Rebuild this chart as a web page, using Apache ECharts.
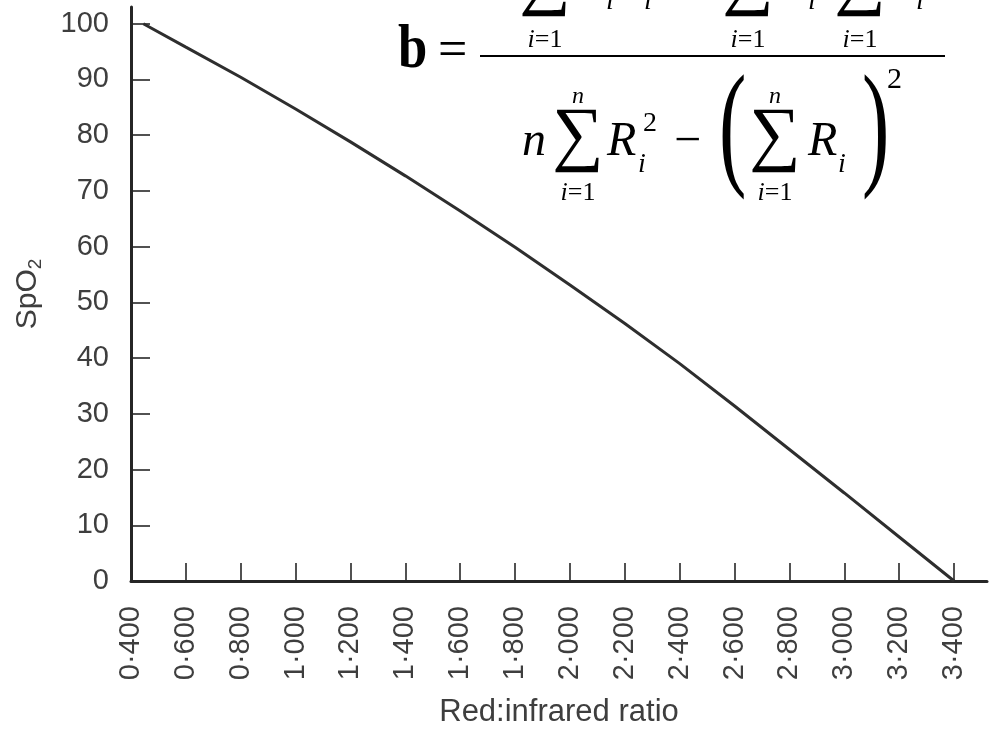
<!DOCTYPE html>
<html>
<head>
<meta charset="utf-8">
<script src="https://cdn.jsdelivr.net/npm/echarts@6/dist/echarts.min.js"></script>
<style>
  html, body { margin: 0; padding: 0; background: #fff; }
  #chart { width: 990px; height: 729px; }
</style>
</head>
<body>
<div id="chart"></div>
<script>
// Calibration curve: SpO2 against the red:infrared absorbance ratio
const ratio = [0.445, 0.6, 0.8, 1.0, 1.2, 1.4, 1.6, 1.8, 2.0, 2.2, 2.4, 2.6, 2.8, 3.0, 3.2, 3.4];
const spo2  = [100, 95.8, 90.4, 84.7, 78.8, 72.7, 66.4, 59.9, 53.1, 46.2, 39.0, 31.4, 23.6, 15.8, 7.9, 0];

// Axis ticks and their printed labels
const xTickValues = [0.4, 0.6, 0.8, 1.0, 1.2, 1.4, 1.6, 1.8, 2.0, 2.2, 2.4, 2.6, 2.8, 3.0, 3.2, 3.4];
const xTickLabels = ['0·400', '0·600', '0·800', '1·000', '1·200', '1·400', '1·600', '1·800',
                     '2·000', '2·200', '2·400', '2·600', '2·800', '3·000', '3·200', '3·400'];
const yTickValues = [0, 10, 20, 30, 40, 50, 60, 70, 80, 90, 100];

const xName = 'Red:infrared ratio';
const yName = 'SpO';
const yNameSub = '2';

const INK = '#262626';
const LABEL = '#3e3e3e';
const SANS = '"Liberation Sans", Arial, Helvetica, sans-serif';
const SERIF = '"Liberation Serif", "Times New Roman", serif';

function xLabel(v) {
  let best = 0;
  for (let i = 1; i < xTickValues.length; i++) {
    if (Math.abs(xTickValues[i] - v) < Math.abs(xTickValues[best] - v)) best = i;
  }
  return xTickLabels[best];
}

// Typeset pieces of the least-squares slope formula
function txt(s, x, y, size, o) {
  o = o || {};
  const al = o.align || 'left';
  return {
    type: 'text', x: x, y: y, silent: true, z: 100,
    scaleX: o.sx || 1, scaleY: o.sy || 1,
    style: {
      text: s, fontSize: size, fontFamily: SERIF,
      fontStyle: o.it ? 'italic' : 'normal',
      fontWeight: o.bold ? 'bold' : 'normal',
      fill: '#000',
      align: al, textAlign: al,
      verticalAlign: 'middle', textVerticalAlign: 'middle',
      rich: o.rich
    }
  };
}
// summation lower limit "i=1" with an italic index
function lim(x, y) {
  return txt('{v|i}=1', x, y, 26, { align: 'center',
    rich: { v: { fontStyle: 'italic', fontSize: 26, fontFamily: SERIF, fill: '#000' } } });
}

const SUM = '\u2211';
const formula = [
  txt('b', 398, 51, 62, { bold: true, sx: 0.85 }),
  txt('=', 438, 52, 52),
  { type: 'line', silent: true, z: 100,
    shape: { x1: 480, y1: 56, x2: 945, y2: 56 },
    style: { stroke: '#000', lineWidth: 2 } },

  // numerator: n ΣRiSi − ΣRi ΣSi
  txt('n', 490, -20, 48, { it: true }),
  txt(SUM, 545, -18, 72, { align: 'center' }),
  lim(545, 40),
  txt('R', 576, -20, 48, { it: true }),
  txt('i', 606, 2, 28, { it: true }),
  txt('S', 622, -20, 48, { it: true }),
  txt('i', 644, 2, 28, { it: true }),
  txt('\u2212', 672, -20, 48),
  txt(SUM, 748, -18, 72, { align: 'center' }),
  lim(748, 40),
  txt('R', 778, -20, 48, { it: true }),
  txt('i', 808, 2, 28, { it: true }),
  txt(SUM, 860, -18, 72, { align: 'center' }),
  lim(860, 40),
  txt('S', 892, -20, 48, { it: true }),
  txt('i', 916, 2, 28, { it: true }),

  // denominator: n ΣRi² − (ΣRi)²
  txt('n', 522, 142, 48, { it: true }),
  txt(SUM, 578, 138, 72, { align: 'center' }),
  txt('n', 578, 97, 24, { align: 'center', it: true }),
  lim(578, 193),
  txt('R', 607, 142, 48, { it: true }),
  txt('2', 643, 124, 28),
  txt('i', 638, 165, 28, { it: true }),
  txt('\u2212', 674, 142, 48),
  txt('(', 719, 134, 137, { sx: 0.6 }),
  txt(SUM, 775, 138, 72, { align: 'center' }),
  txt('n', 775, 97, 24, { align: 'center', it: true }),
  lim(775, 193),
  txt('R', 808, 142, 48, { it: true }),
  txt('i', 838, 165, 28, { it: true }),
  txt(')', 862, 134, 137, { sx: 0.6 }),
  txt('2', 887, 80, 30)
];

const chart = echarts.init(document.getElementById('chart'), null, { renderer: 'canvas', width: 990, height: 729 });

chart.setOption({
  animation: false,
  backgroundColor: '#fff',
  grid: { left: 131, right: 3, top: 7, bottom: 148, containLabel: false, outerBoundsMode: 'none' },
  xAxis: {
    type: 'value', min: 0.4, max: 3.52, interval: 0.2,
    axisLine: { onZero: false, lineStyle: { color: INK, width: 3 } },
    axisTick: { show: true, inside: true, length: 18, customValues: xTickValues.slice(1),
                lineStyle: { color: INK, width: 1.6 } },
    axisLabel: { customValues: xTickValues, rotate: 90, margin: 25, formatter: xLabel,
                 fontSize: 29, fontFamily: SANS, color: LABEL },
    splitLine: { show: false },
    name: xName, nameLocation: 'middle', nameGap: 116,
    nameTextStyle: { fontSize: 31, fontFamily: SANS, color: LABEL }
  },
  yAxis: {
    type: 'value', min: 0, max: 103, interval: 10,
    axisLine: { show: true, onZero: false, lineStyle: { color: INK, width: 3 } },
    axisTick: { show: true, inside: true, length: 19, customValues: yTickValues.slice(1),
                lineStyle: { color: INK, width: 1.6 } },
    axisLabel: { customValues: yTickValues, margin: 22, fontSize: 29, fontFamily: SANS, color: LABEL },
    splitLine: { show: false },
    name: '{a|' + yName + '}{b|' + yNameSub + '}',
    nameLocation: 'middle', nameRotate: 90, nameGap: 86,
    nameTextStyle: {
      rich: {
        a: { fontSize: 30, fontFamily: SANS, color: LABEL },
        b: { fontSize: 19, fontFamily: SANS, color: LABEL, padding: [15, 0, 0, 0] }
      }
    }
  },
  series: [{
    type: 'line',
    data: ratio.map((r, i) => [r, spo2[i]]),
    showSymbol: false,
    smooth: false,
    clip: false,
    lineStyle: { color: '#2e2e2e', width: 3 }
  }],
  graphic: formula
});
</script>
</body>
</html>
